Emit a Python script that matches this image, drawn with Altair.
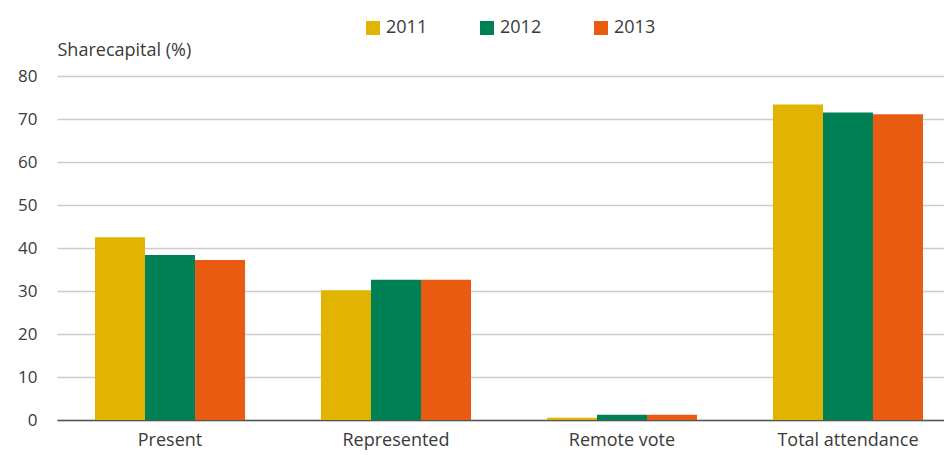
import altair as alt
import pandas as pd

categories = ["Present", "Represented", "Remote vote", "Total attendance"]
years = ["2011", "2012", "2013"]
values_2011 = [42.5, 30.2, 0.5, 73.4]
values_2012 = [38.4, 32.6, 1.2, 71.5]
values_2013 = [37.2, 32.6, 1.2, 71.1]
colors = ["#E0B400", "#008055", "#E85B10"]

rows = []
for i, c in enumerate(categories):
    for y, vals in zip(years, [values_2011, values_2012, values_2013]):
        rows.append({"category": c, "year": y, "value": vals[i]})
df = pd.DataFrame(rows)

FONT = "Open Sans"
TXT = "#3a3a3a"

chart = alt.Chart(df).mark_bar().encode(
    x=alt.X("category:N", sort=categories,
            scale=alt.Scale(paddingInner=0.336, paddingOuter=0.1305, align=0.644),
            axis=alt.Axis(title=None, labelAngle=0, labelFont=FONT, labelFontSize=18,
                          labelColor=TXT, labelPadding=11, ticks=False,
                          domainColor="#555555", domainWidth=1.5, grid=False)),
    xOffset=alt.XOffset("year:N", sort=years, scale=alt.Scale(paddingInner=0, paddingOuter=0)),
    y=alt.Y("value:Q", scale=alt.Scale(domain=[0, 80], nice=False),
            axis=alt.Axis(values=[0, 10, 20, 30, 40, 50, 60, 70, 80], ticks=False, domain=False,
                          labelFont=FONT, labelFontSize=17, labelColor=TXT, labelPadding=20,
                          gridColor="#cccccc", gridWidth=1.5,
                          title="Sharecapital (%)", titleAngle=0, titleX=0, titleY=-21,
                          titleAlign="left", titleBaseline="alphabetic", titleFont=FONT,
                          titleFontSize=18, titleFontWeight="normal", titleColor=TXT)),
    color=alt.Color("year:N", sort=years, scale=alt.Scale(domain=years, range=colors),
                    legend=alt.Legend(title=None, orient="none", legendX=307, legendY=-57,
                                      direction="horizontal", symbolType="square", symbolSize=196,
                                      symbolStrokeWidth=0, symbolOpacity=1, labelFont=FONT,
                                      labelFontSize=18, labelColor=TXT, labelOffset=4,
                                      columnPadding=50, padding=0)),
).properties(
    width=887, height=344,
    autosize=alt.AutoSizeParams(type="none"),
    padding={"left": 49, "top": 68, "right": 0, "bottom": 36},
).configure_view(stroke=None)

chart.save("out.html", embed_options={"renderer": "svg", "actions": False})
